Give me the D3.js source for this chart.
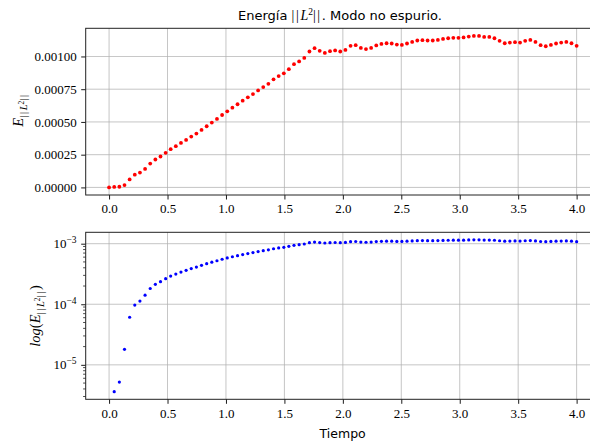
<!DOCTYPE html>
<html>
<head>
<meta charset="utf-8">
<script src="https://cdn.jsdelivr.net/npm/d3@7"></script>
<style>
  body { margin: 0; background: #fff; }
  svg { display: block; }
  .tick text { font-family: "Liberation Serif", serif; font-size: 13px; fill: #000; }
  .domain { display: none; }
  .tick line { stroke: #000; stroke-width: 0.9; }
  .bars { letter-spacing: 1.6px; }
</style>
</head>
<body>
<script>
// time samples (s)
var tiempo = [0, 0.044, 0.088, 0.132, 0.176, 0.220, 0.264, 0.308, 0.352, 0.396,
  0.440, 0.484, 0.527, 0.571, 0.615, 0.659, 0.703, 0.747, 0.791, 0.835,
  0.879, 0.923, 0.967, 1.011, 1.055, 1.099, 1.143, 1.187, 1.231, 1.275,
  1.319, 1.363, 1.407, 1.451, 1.495, 1.538, 1.582, 1.626, 1.670, 1.714,
  1.758, 1.802, 1.846, 1.890, 1.934, 1.978, 2.022, 2.066, 2.110, 2.154,
  2.198, 2.242, 2.286, 2.330, 2.374, 2.418, 2.462, 2.505, 2.549, 2.593,
  2.637, 2.681, 2.725, 2.769, 2.813, 2.857, 2.901, 2.945, 2.989, 3.033,
  3.077, 3.121, 3.165, 3.209, 3.253, 3.297, 3.341, 3.385, 3.429, 3.473,
  3.516, 3.560, 3.604, 3.648, 3.692, 3.736, 3.780, 3.824, 3.868, 3.912,
  3.956, 4.000]

// energy ||L2|| for each time
var energia = [0, 0.0000036, 0.0000052, 0.000018, 0.000061, 0.000097, 0.000113, 0.000141, 0.000182, 0.000213,
  0.000236, 0.000264, 0.000292, 0.000315, 0.000340, 0.000363, 0.000388, 0.000411, 0.000439, 0.000467,
  0.000495, 0.000523, 0.000553, 0.000581, 0.000609, 0.000635, 0.000662, 0.000688, 0.000713, 0.000741,
  0.000766, 0.000791, 0.000825, 0.000850, 0.000871, 0.000903, 0.000941, 0.000962, 0.000989, 0.001038,
  0.001063, 0.001043, 0.001027, 0.001040, 0.001046, 0.001038, 0.001050, 0.001081, 0.001086, 0.001065,
  0.001056, 0.001065, 0.001084, 0.001096, 0.001101, 0.001099, 0.001091, 0.001088, 0.001099, 0.001111,
  0.001122, 0.001124, 0.001122, 0.001122, 0.001126, 0.001134, 0.001139, 0.001142, 0.001142, 0.001145,
  0.001152, 0.001157, 0.001157, 0.001149, 0.001149, 0.001139, 0.001119, 0.001101, 0.001106, 0.001109,
  0.001106, 0.001119, 0.001126, 0.001111, 0.001086, 0.001078, 0.001088, 0.001099, 0.001106, 0.001111,
  0.001101, 0.001081]

var xTicks = [0, 0.5, 1, 1.5, 2, 2.5, 3, 3.5, 4]
var yTicksTop = [0, 0.00025, 0.0005, 0.00075, 0.001]
var yTicksLog = [1e-5, 1e-4, 1e-3]

var width = 590, height = 443
var left = 85.7, right = 600

var svg = d3.select("body").append("svg")
  .attr("width", width)
  .attr("height", height)

var pts = tiempo.map(function(t, i) { return {t: t, e: energia[i]} })

var xScale = d3.scaleLinear().domain([-0.2, 4.2]).range([left, right])

var yTop = d3.scaleLinear().domain([-0.0000579, 0.001215]).range([195, 28.3])
var yLog = d3.scaleLog().domain([Math.pow(10, -5.569), Math.pow(10, -2.812)]).range([399.3, 232.3])

function drawPanel(yScale, top, bottom, yTicks, fmt) {
  var g = svg.append("g")

  // grid
  g.selectAll(".vgrid").data(xTicks).enter().append("line")
    .attr("x1", function(d) { return xScale(d) }).attr("x2", function(d) { return xScale(d) })
    .attr("y1", top).attr("y2", bottom)
    .attr("stroke", "#b0b0b0").attr("stroke-width", 0.9).attr("opacity", 0.8)
  g.selectAll(".hgrid").data(yTicks).enter().append("line")
    .attr("x1", left).attr("x2", right)
    .attr("y1", function(d) { return yScale(d) }).attr("y2", function(d) { return yScale(d) })
    .attr("stroke", "#b0b0b0").attr("stroke-width", 0.9).attr("opacity", 0.8)

  g.append("g").attr("transform", "translate(0," + bottom + ")")
    .call(d3.axisBottom(xScale).tickValues(xTicks).tickFormat(d3.format(".1f")).tickSize(4.5).tickPadding(4.5))

  g.append("g").attr("transform", "translate(" + left + ",0)")
    .call(d3.axisLeft(yScale).tickValues(yTicks).tickFormat(fmt).tickSize(4.5).tickPadding(4.5))

  return g
}

var gTop = drawPanel(yTop, 28.3, 195, yTicksTop, d3.format(".5f"))
var gBot = drawPanel(yLog, 232.3, 399.3, yTicksLog, function() { return "" })

// log tick labels with superscript
gBot.selectAll(".logLabel").data(yTicksLog).enter().append("text")
  .attr("x", 76.5)
  .attr("y", function(d) { return yLog(d) + 4.5 })
  .attr("text-anchor", "end")
  .style("font-family", "Liberation Serif, serif").style("font-size", "13px")
  .each(function(d) {
    var el = d3.select(this)
    el.append("tspan").text("10")
    el.append("tspan").attr("dy", -5).style("font-size", "9.5px").text("\u2212" + Math.round(-Math.log10(d)))
  })

// minor log ticks
var minor = []
;[-6, -5, -4, -3].forEach(function(p) {
  for (var m = 2; m <= 9; m++) {
    var v = m * Math.pow(10, p)
    if (v > yLog.domain()[0] && v < yLog.domain()[1]) minor.push(v)
  }
})
gBot.selectAll(".minor").data(minor).enter().append("line")
  .attr("x1", left - 2.6).attr("x2", left)
  .attr("y1", function(d) { return yLog(d) }).attr("y2", function(d) { return yLog(d) })
  .attr("stroke", "#000").attr("stroke-width", 0.7)

// spines
;[[28.3, 195], [232.3, 399.3]].forEach(function(b) {
  svg.append("rect")
    .attr("x", left).attr("y", b[0])
    .attr("width", right - left).attr("height", b[1] - b[0])
    .attr("fill", "none").attr("stroke", "#222").attr("stroke-width", 1)
})

// points
gTop.selectAll(".dotTop").data(pts).enter().append("circle")
  .attr("cx", function(d) { return xScale(d.t) })
  .attr("cy", function(d) { return yTop(d.e) })
  .attr("r", 1.9).attr("fill", "#ff0000")

gBot.selectAll(".dotBot").data(pts.filter(function(d) { return d.e > 0 })).enter().append("circle")
  .attr("cx", function(d) { return xScale(d.t) })
  .attr("cy", function(d) { return yLog(d.e) })
  .attr("r", 1.6).attr("fill", "#0000ff")

// title
var title = svg.append("text")
  .attr("x", 340).attr("y", 20)
  .attr("text-anchor", "middle")
  .style("font-family", "DejaVu Sans, sans-serif").style("font-size", "13px")
title.append("tspan").text("Energía ")
title.append("tspan").attr("class", "bars").style("font-family", "Liberation Serif, serif").style("font-size", "14px").text("||")
title.append("tspan").style("font-family", "Liberation Serif, serif").style("font-style", "italic").style("font-size", "14px").text("L")
title.append("tspan").attr("dy", -5).style("font-size", "9.5px").style("font-family", "Liberation Serif, serif").text("2")
title.append("tspan").attr("class", "bars").attr("dy", 5).style("font-family", "Liberation Serif, serif").style("font-size", "14px").text("||")
title.append("tspan").text(". Modo no espurio.")

// y labels
function subscriptL(el) {
  el.append("tspan").attr("class", "bars").attr("dy", 4).style("font-size", "10.5px").text("||")
  el.append("tspan").style("font-size", "10.5px").style("font-style", "italic").text("L")
  el.append("tspan").attr("dy", -3.5).style("font-size", "7.5px").text("2")
  el.append("tspan").attr("class", "bars").attr("dy", 3.5).style("font-size", "10.5px").text("||")
}

var yl1 = svg.append("text")
  .attr("transform", "translate(23,110) rotate(-90)")
  .attr("text-anchor", "middle")
  .style("font-family", "Liberation Serif, serif").style("font-size", "14.5px")
yl1.append("tspan").style("font-style", "italic").text("E")
subscriptL(yl1)

var yl2 = svg.append("text")
  .attr("transform", "translate(39.5,316) rotate(-90)")
  .attr("text-anchor", "middle")
  .style("font-family", "Liberation Serif, serif").style("font-size", "14.5px")
yl2.append("tspan").style("font-style", "italic").text("log")
yl2.append("tspan").text("(")
yl2.append("tspan").style("font-style", "italic").text("E")
subscriptL(yl2)
yl2.append("tspan").attr("dy", -4).text(")")

// x label
svg.append("text")
  .attr("x", 342.7).attr("y", 438)
  .attr("text-anchor", "middle")
  .style("font-family", "DejaVu Sans, sans-serif").style("font-size", "12.5px")
  .text("Tiempo")
</script>
</body>
</html>
